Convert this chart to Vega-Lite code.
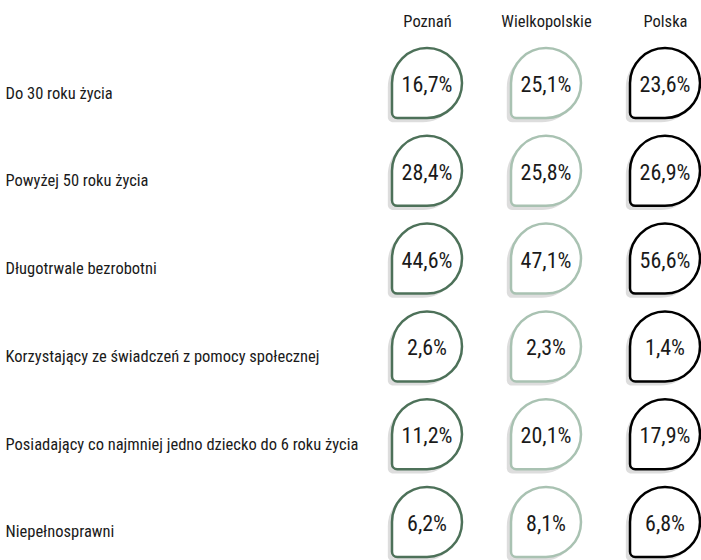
{
  "$schema": "https://vega.github.io/schema/vega-lite/v6.json",
  "width": 701,
  "height": 525,
  "autosize": "none",
  "padding": {"top": 35, "left": 0, "right": 0, "bottom": 0},
  "background": "white",
  "config": {
    "view": {"stroke": null},
    "font": "Roboto Condensed, Roboto, sans-serif"
  },
  "data": {
    "values": [
      {"category": "Do 30 roku życia", "region": "Poznań", "value": 16.7, "label": "16,7%"},
      {"category": "Do 30 roku życia", "region": "Wielkopolskie", "value": 25.1, "label": "25,1%"},
      {"category": "Do 30 roku życia", "region": "Polska", "value": 23.6, "label": "23,6%"},
      {"category": "Powyżej 50 roku życia", "region": "Poznań", "value": 28.4, "label": "28,4%"},
      {"category": "Powyżej 50 roku życia", "region": "Wielkopolskie", "value": 25.8, "label": "25,8%"},
      {"category": "Powyżej 50 roku życia", "region": "Polska", "value": 26.9, "label": "26,9%"},
      {"category": "Długotrwale bezrobotni", "region": "Poznań", "value": 44.6, "label": "44,6%"},
      {"category": "Długotrwale bezrobotni", "region": "Wielkopolskie", "value": 47.1, "label": "47,1%"},
      {"category": "Długotrwale bezrobotni", "region": "Polska", "value": 56.6, "label": "56,6%"},
      {"category": "Korzystający ze świadczeń z pomocy społecznej", "region": "Poznań", "value": 2.6, "label": "2,6%"},
      {"category": "Korzystający ze świadczeń z pomocy społecznej", "region": "Wielkopolskie", "value": 2.3, "label": "2,3%"},
      {"category": "Korzystający ze świadczeń z pomocy społecznej", "region": "Polska", "value": 1.4, "label": "1,4%"},
      {"category": "Posiadający co najmniej jedno dziecko do 6 roku życia", "region": "Poznań", "value": 11.2, "label": "11,2%"},
      {"category": "Posiadający co najmniej jedno dziecko do 6 roku życia", "region": "Wielkopolskie", "value": 20.1, "label": "20,1%"},
      {"category": "Posiadający co najmniej jedno dziecko do 6 roku życia", "region": "Polska", "value": 17.9, "label": "17,9%"},
      {"category": "Niepełnosprawni", "region": "Poznań", "value": 6.2, "label": "6,2%"},
      {"category": "Niepełnosprawni", "region": "Wielkopolskie", "value": 8.1, "label": "8,1%"},
      {"category": "Niepełnosprawni", "region": "Polska", "value": 6.8, "label": "6,8%"}
    ]
  },
  "encoding": {
    "x": {
      "field": "region",
      "type": "nominal",
      "sort": ["Poznań", "Wielkopolskie", "Polska"],
      "scale": {"type": "point", "range": [427, 665], "padding": 0},
      "axis": {
        "orient": "top",
        "title": null,
        "domain": false,
        "ticks": false,
        "grid": false,
        "labelPadding": 14,
        "labelBaseline": "middle",
        "labelFontSize": 16.5,
        "labelColor": "#1a1a1a",
        "labelAngle": 0
      }
    },
    "y": {
      "field": "category",
      "type": "nominal",
      "sort": [
        "Do 30 roku życia",
        "Powyżej 50 roku życia",
        "Długotrwale bezrobotni",
        "Korzystający ze świadczeń z pomocy społecznej",
        "Posiadający co najmniej jedno dziecko do 6 roku życia",
        "Niepełnosprawni"
      ],
      "scale": {"type": "point", "padding": 0.49, "align": 0.558},
      "axis": {
        "orient": "left",
        "title": null,
        "domain": false,
        "ticks": false,
        "grid": false,
        "labelAlign": "left",
        "labelPadding": -5,
        "labelBaseline": "middle",
        "labelOffset": 10,
        "labelLimit": 0,
        "labelFontSize": 16.5,
        "labelColor": "#1a1a1a"
      }
    }
  },
  "layer": [
    {
      "mark": {
        "type": "point",
        "shape": "M -1.12 0.97 L -1.12 0.12 C -1.12 -0.4323 -0.6723 -0.88 -0.12 -0.88 C 0.4323 -0.88 0.88 -0.4323 0.88 0.12 C 0.88 0.6723 0.4323 1.12 -0.12 1.12 L -0.97 1.12 C -1.053 1.12 -1.12 1.053 -1.12 0.97 Z",
        "size": 4900,
        "filled": true,
        "fill": "#dddddd",
        "strokeWidth": 0,
        "opacity": 1
      }
    },
    {
      "mark": {
        "type": "point",
        "shape": "M -1 0.85 L -1 0 C -1 -0.5523 -0.5523 -1 0 -1 C 0.5523 -1 1 -0.5523 1 0 C 1 0.5523 0.5523 1 0 1 L -0.85 1 C -0.933 1 -1 0.933 -1 0.85 Z",
        "size": 4900,
        "filled": true,
        "fill": "white",
        "strokeWidth": 2.5,
        "opacity": 1
      },
      "encoding": {
        "stroke": {
          "field": "region",
          "type": "nominal",
          "scale": {"domain": ["Poznań", "Wielkopolskie", "Polska"], "range": ["#4d7159", "#a9c2b2", "#000000"]},
          "legend": null
        }
      }
    },
    {
      "mark": {"type": "text", "fontSize": 22, "dy": 2, "color": "#1a1a1a"},
      "encoding": {"text": {"field": "label", "type": "nominal"}}
    }
  ]
}
